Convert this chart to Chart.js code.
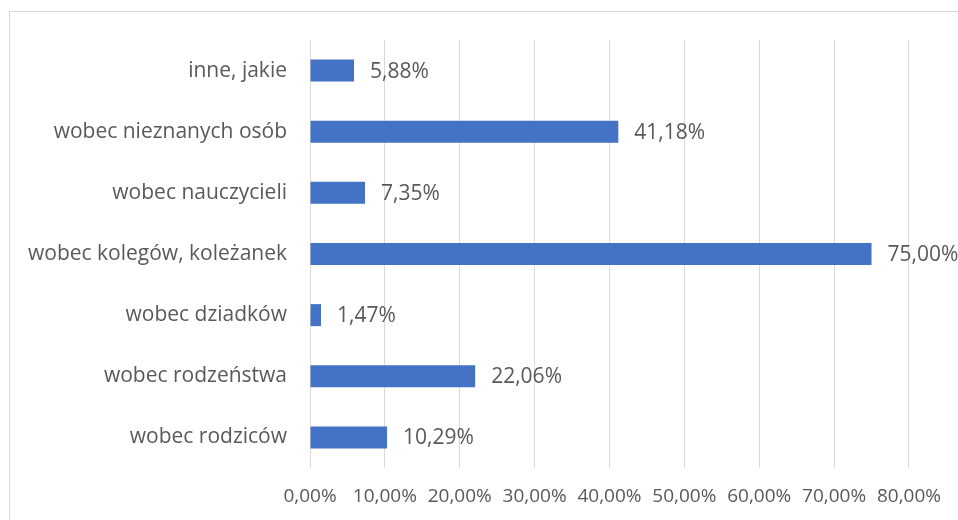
<!DOCTYPE html>
<html>
<head>
<meta charset="utf-8">
<script src="https://cdn.jsdelivr.net/npm/chart.js@4/dist/chart.umd.min.js"></script>
<style>
  html, body { margin: 0; padding: 0; background: #fff; }
  #wrap { position: relative; width: 958px; height: 520px; overflow: hidden; }
  #frame { position: absolute; left: 9px; top: 11px; width: 960px; height: 600px; border: 1px solid #d9d9d9; box-sizing: border-box; }
  canvas { position: absolute; left: 0; top: 0; }
</style>
</head>
<body>
<div id="wrap">
  <div id="frame"></div>
  <canvas id="c" width="958" height="520"></canvas>
</div>
<script>
const categories = ["inne, jakie", "wobec nieznanych osób", "wobec nauczycieli", "wobec kolegów, koleżanek", "wobec dziadków", "wobec rodzeństwa", "wobec rodziców"];
const values = [5.88, 41.18, 7.35, 75.00, 1.47, 22.06, 10.29];
const xTicks = [0, 10, 20, 30, 40, 50, 60, 70, 80];

const FONT = "'Open Sans', sans-serif";
const TXT = "#595959";
const fmt = v => v.toFixed(2).replace('.', ',') + '%';

const labelPlugin = {
  id: 'barLabels',
  afterDatasetsDraw(chart) {
    const ctx = chart.ctx;
    const meta = chart.getDatasetMeta(0);
    ctx.save();
    ctx.font = "21px " + FONT;
    ctx.fillStyle = TXT;
    ctx.textAlign = 'left';
    ctx.textBaseline = 'middle';
    meta.data.forEach((bar, i) => {
      ctx.fillText(fmt(values[i]), bar.x + 16, bar.y + 1);
    });
    ctx.restore();
  }
};

new Chart(document.getElementById('c'), {
  type: 'bar',
  data: {
    labels: categories,
    datasets: [{
      data: values,
      backgroundColor: '#4472C4',
      borderWidth: 0,
      barPercentage: 0.6,
      categoryPercentage: 0.6
    }]
  },
  options: {
    indexAxis: 'y',
    responsive: false,
    animation: false,
    layout: { padding: { left: 0, right: 49, top: 40, bottom: 0 } },
    plugins: { legend: { display: false }, tooltip: { enabled: false } },
    scales: {
      x: {
        min: 0, max: 80,
        afterBuildTicks(scale) { scale.ticks = xTicks.map(v => ({ value: v })); },
        afterFit(scale) { scale.height = 52; },
        grid: { color: '#d9d9d9', lineWidth: 1, drawTicks: false },
        border: { display: false },
        ticks: {
          color: TXT,
          font: { family: FONT, size: 19 },
          padding: 17,
          maxRotation: 0,
          autoSkip: false,
          callback: v => fmt(v)
        }
      },
      y: {
        afterFit(scale) { scale.width = 310; },
        grid: { display: false, drawTicks: false },
        border: { display: false },
        ticks: {
          color: TXT,
          font: { family: FONT, size: 21 },
          padding: 23,
          autoSkip: false
        }
      }
    }
  },
  plugins: [labelPlugin]
});
</script>
</body>
</html>
